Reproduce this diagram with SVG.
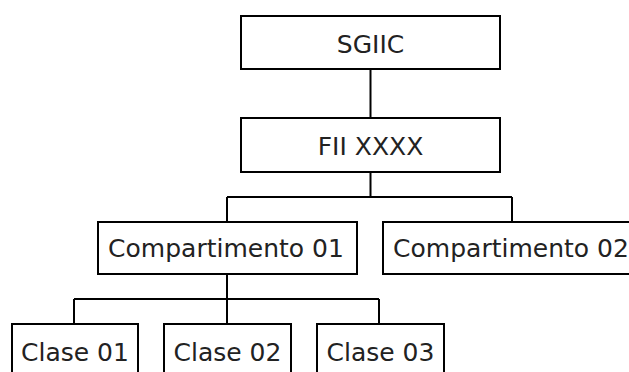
<svg xmlns="http://www.w3.org/2000/svg" width="629" height="372" viewBox="0 0 629 372">
<style>
.box{fill:#fff;stroke:#000;stroke-width:2}
.lbl{font-family:"DejaVu Sans","Liberation Sans",sans-serif;font-size:25px;fill:#222;text-anchor:middle}
.conn{fill:none;stroke:#000;stroke-width:2}
</style>
<rect width="629" height="372" fill="#fff"/>
<g id="connectors" class="conn">
<path d="M370.5 69V118"/>
<path d="M370.5 172V197M227 197H512M227 197V222M512 197V222"/>
<path d="M227 274V299M74 299H379M74 299V324M227 299V324M379 299V324"/>
</g>
<g id="sgiic"><rect class="box" x="241" y="16" width="259" height="53"/><text class="lbl" x="370.5" y="53">SGIIC</text></g>
<g id="fii"><rect class="box" x="241" y="118" width="259" height="54"/><text class="lbl" x="370.5" y="155">FII XXXX</text></g>
<g id="comp01"><rect class="box" x="98" y="222" width="259" height="52"/><text class="lbl" x="226" y="257">Compartimento 01</text></g>
<g id="comp02"><rect class="box" x="383" y="222" width="259" height="52"/><text class="lbl" x="511" y="257">Compartimento 02</text></g>
<g id="clase01"><rect class="box" x="12" y="324" width="126" height="60"/><text class="lbl" x="75" y="361">Clase 01</text></g>
<g id="clase02"><rect class="box" x="164" y="324" width="127" height="60"/><text class="lbl" x="227.5" y="361">Clase 02</text></g>
<g id="clase03"><rect class="box" x="317" y="324" width="127" height="60"/><text class="lbl" x="380.5" y="361">Clase 03</text></g>
</svg>
